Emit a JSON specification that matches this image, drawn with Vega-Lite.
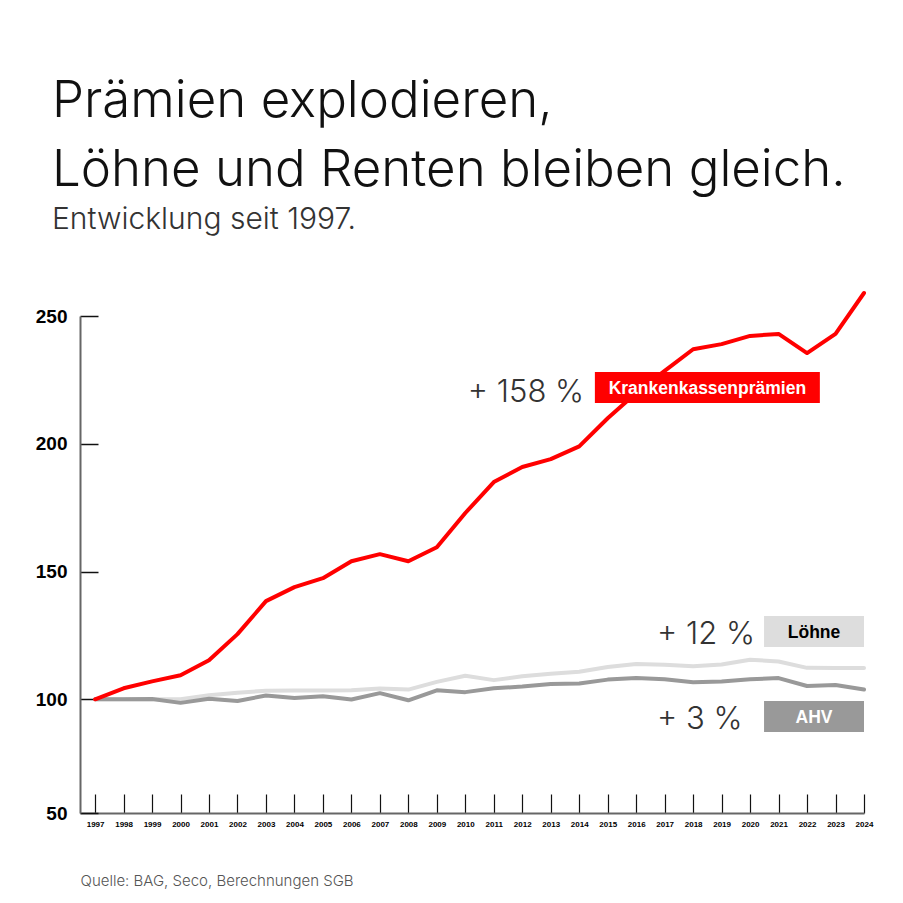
{
  "$schema": "https://vega.github.io/schema/vega-lite/v6.json",
  "autosize": {"type": "none"},
  "padding": {"left": 80, "top": 316, "right": 39, "bottom": 90},
  "width": 784,
  "height": 497,
  "background": "white",
  "config": {
    "view": {"stroke": null},
    "font": "Inter"
  },
  "title": {
    "text": ["Prämien explodieren,", "Löhne und Renten bleiben gleich."],
    "subtitle": "Entwicklung seit 1997.",
    "anchor": "start",
    "frame": "group",
    "dx": -28,
    "offset": 55,
    "font": "Inter",
    "fontWeight": 300,
    "fontSize": 51,
    "lineHeight": 69,
    "color": "#111111",
    "subtitleFont": "Inter",
    "subtitleFontWeight": 300,
    "subtitleFontSize": 30,
    "subtitleColor": "#333333",
    "subtitlePadding": 8
  },
  "datasets": {
    "series": [
      {"year": 1997, "series": "Löhne", "value": 100},
      {"year": 1998, "series": "Löhne", "value": 100},
      {"year": 1999, "series": "Löhne", "value": 100},
      {"year": 2000, "series": "Löhne", "value": 100},
      {"year": 2001, "series": "Löhne", "value": 101.6},
      {"year": 2002, "series": "Löhne", "value": 102.6},
      {"year": 2003, "series": "Löhne", "value": 103.3},
      {"year": 2004, "series": "Löhne", "value": 103.4},
      {"year": 2005, "series": "Löhne", "value": 103.4},
      {"year": 2006, "series": "Löhne", "value": 103.5},
      {"year": 2007, "series": "Löhne", "value": 104.2},
      {"year": 2008, "series": "Löhne", "value": 103.8},
      {"year": 2009, "series": "Löhne", "value": 106.8},
      {"year": 2010, "series": "Löhne", "value": 109.2},
      {"year": 2011, "series": "Löhne", "value": 107.5},
      {"year": 2012, "series": "Löhne", "value": 109.0},
      {"year": 2013, "series": "Löhne", "value": 110.0},
      {"year": 2014, "series": "Löhne", "value": 110.8},
      {"year": 2015, "series": "Löhne", "value": 112.6},
      {"year": 2016, "series": "Löhne", "value": 113.8},
      {"year": 2017, "series": "Löhne", "value": 113.5},
      {"year": 2018, "series": "Löhne", "value": 112.9},
      {"year": 2019, "series": "Löhne", "value": 113.6},
      {"year": 2020, "series": "Löhne", "value": 115.5},
      {"year": 2021, "series": "Löhne", "value": 114.8},
      {"year": 2022, "series": "Löhne", "value": 112.3},
      {"year": 2023, "series": "Löhne", "value": 112.2},
      {"year": 2024, "series": "Löhne", "value": 112.2},
      {"year": 1997, "series": "AHV", "value": 100},
      {"year": 1998, "series": "AHV", "value": 100},
      {"year": 1999, "series": "AHV", "value": 100.1},
      {"year": 2000, "series": "AHV", "value": 98.6},
      {"year": 2001, "series": "AHV", "value": 100.2},
      {"year": 2002, "series": "AHV", "value": 99.3},
      {"year": 2003, "series": "AHV", "value": 101.5},
      {"year": 2004, "series": "AHV", "value": 100.5},
      {"year": 2005, "series": "AHV", "value": 101.2},
      {"year": 2006, "series": "AHV", "value": 99.9},
      {"year": 2007, "series": "AHV", "value": 102.4},
      {"year": 2008, "series": "AHV", "value": 99.6},
      {"year": 2009, "series": "AHV", "value": 103.5},
      {"year": 2010, "series": "AHV", "value": 102.8},
      {"year": 2011, "series": "AHV", "value": 104.3},
      {"year": 2012, "series": "AHV", "value": 105.0},
      {"year": 2013, "series": "AHV", "value": 106.0},
      {"year": 2014, "series": "AHV", "value": 106.2},
      {"year": 2015, "series": "AHV", "value": 107.7},
      {"year": 2016, "series": "AHV", "value": 108.3},
      {"year": 2017, "series": "AHV", "value": 107.8},
      {"year": 2018, "series": "AHV", "value": 106.7},
      {"year": 2019, "series": "AHV", "value": 107.0},
      {"year": 2020, "series": "AHV", "value": 107.8},
      {"year": 2021, "series": "AHV", "value": 108.3},
      {"year": 2022, "series": "AHV", "value": 105.2},
      {"year": 2023, "series": "AHV", "value": 105.6},
      {"year": 2024, "series": "AHV", "value": 103.8},
      {"year": 1997, "series": "Krankenkassenprämien", "value": 100},
      {"year": 1998, "series": "Krankenkassenprämien", "value": 104.3},
      {"year": 1999, "series": "Krankenkassenprämien", "value": 107},
      {"year": 2000, "series": "Krankenkassenprämien", "value": 109.4},
      {"year": 2001, "series": "Krankenkassenprämien", "value": 115.3},
      {"year": 2002, "series": "Krankenkassenprämien", "value": 125.5},
      {"year": 2003, "series": "Krankenkassenprämien", "value": 138.4},
      {"year": 2004, "series": "Krankenkassenprämien", "value": 143.9},
      {"year": 2005, "series": "Krankenkassenprämien", "value": 147.4},
      {"year": 2006, "series": "Krankenkassenprämien", "value": 154},
      {"year": 2007, "series": "Krankenkassenprämien", "value": 156.8},
      {"year": 2008, "series": "Krankenkassenprämien", "value": 154},
      {"year": 2009, "series": "Krankenkassenprämien", "value": 159.5},
      {"year": 2010, "series": "Krankenkassenprämien", "value": 172.9},
      {"year": 2011, "series": "Krankenkassenprämien", "value": 185},
      {"year": 2012, "series": "Krankenkassenprämien", "value": 190.9},
      {"year": 2013, "series": "Krankenkassenprämien", "value": 194},
      {"year": 2014, "series": "Krankenkassenprämien", "value": 199},
      {"year": 2015, "series": "Krankenkassenprämien", "value": 210},
      {"year": 2016, "series": "Krankenkassenprämien", "value": 219.9},
      {"year": 2017, "series": "Krankenkassenprämien", "value": 228.5},
      {"year": 2018, "series": "Krankenkassenprämien", "value": 237},
      {"year": 2019, "series": "Krankenkassenprämien", "value": 239},
      {"year": 2020, "series": "Krankenkassenprämien", "value": 242.2},
      {"year": 2021, "series": "Krankenkassenprämien", "value": 243},
      {"year": 2022, "series": "Krankenkassenprämien", "value": 235.5},
      {"year": 2023, "series": "Krankenkassenprämien", "value": 243},
      {"year": 2024, "series": "Krankenkassenprämien", "value": 259}
    ],
    "boxes": [
      {"label": "Krankenkassenprämien", "start": 2014.55, "end": 2022.45, "lo": 215.95, "hi": 228.1, "mid_x": 2018.5, "mid_y": 222.0},
      {"label": "Löhne", "start": 2020.49, "end": 2024, "lo": 120.45, "hi": 132.6, "mid_x": 2022.245, "mid_y": 126.5},
      {"label": "AHV", "start": 2020.49, "end": 2024, "lo": 87.2, "hi": 99.3, "mid_x": 2022.245, "mid_y": 93.25}
    ],
    "changes": [
      {"text": "+ 158 %", "year": 2010.09, "value": 216.3},
      {"text": "+ 12 %", "year": 2016.73, "value": 121.6},
      {"text": "+ 3 %", "year": 2016.73, "value": 88.4}
    ]
  },
  "layer": [
    {
      "data": {"name": "series"},
      "mark": {"type": "line", "strokeWidth": 4, "strokeCap": "round", "strokeJoin": "round"},
      "encoding": {
        "x": {
          "field": "year", "type": "quantitative",
          "scale": {"domain": [1996.47, 2024], "nice": false, "zero": false},
          "axis": {
            "values": [1997,1998,1999,2000,2001,2002,2003,2004,2005,2006,2007,2008,2009,2010,2011,2012,2013,2014,2015,2016,2017,2018,2019,2020,2021,2022,2023,2024],
            "tickCount": 28,
            "format": "d",
            "grid": false,
            "tickSize": -19,
            "tickColor": "#111111",
            "tickWidth": 1.2,
            "domainColor": "#666666",
            "domainWidth": 2,
            "labelFont": "Liberation Sans",
            "labelFontWeight": "bold",
            "labelFontSize": 8,
            "labelColor": "#000000",
            "labelPadding": 26,
            "labelFlush": false,
            "labelOverlap": false,
            "labelBound": false,
            "title": "Quelle: BAG, Seco, Berechnungen SGB",
            "titleFont": "Inter",
            "titleFontWeight": 300,
            "titleFontSize": 15,
            "titleColor": "#555555",
            "titleAnchor": "start",
            "titleAlign": "left",
            "titleBaseline": "alphabetic",
            "titleX": 0,
            "titleY": 72
          }
        },
        "y": {
          "field": "value", "type": "quantitative",
          "scale": {"domain": [55.5, 250], "nice": false, "zero": false},
          "axis": {
            "values": [55.5, 100, 150, 200, 250],
            "tickCount": 5,
            "labelExpr": "datum.value < 60 ? '50' : datum.label",
            "grid": false,
            "tickSize": -18,
            "tickColor": "#111111",
            "tickWidth": 1.5,
            "domainColor": "#666666",
            "domainWidth": 2,
            "labelFont": "Liberation Sans",
            "labelFontWeight": "bold",
            "labelFontSize": 19,
            "labelColor": "#000000",
            "labelPadding": 31,
            "labelFlush": false,
            "title": null
          }
        },
        "color": {
          "field": "series", "type": "nominal",
          "scale": {"domain": ["Löhne", "AHV", "Krankenkassenprämien"], "range": ["#dddddd", "#999999", "#ff0000"]},
          "legend": null
        }
      }
    },
    {
      "data": {"name": "boxes"},
      "mark": {"type": "rect"},
      "encoding": {
        "x": {"field": "start", "type": "quantitative"},
        "x2": {"field": "end"},
        "y": {"field": "lo", "type": "quantitative"},
        "y2": {"field": "hi"},
        "color": {
          "field": "label", "type": "nominal",
          "scale": {"domain": ["Krankenkassenprämien", "Löhne", "AHV"], "range": ["#ff0000", "#dddddd", "#999999"]},
          "legend": null
        }
      }
    },
    {
      "data": {"name": "boxes"},
      "mark": {"type": "text", "font": "Liberation Sans", "fontWeight": "bold", "fontSize": 17.5, "align": "center", "baseline": "middle", "dy": 1},
      "encoding": {
        "x": {"field": "mid_x", "type": "quantitative"},
        "y": {"field": "mid_y", "type": "quantitative"},
        "text": {"field": "label"},
        "color": {
          "field": "label", "type": "nominal",
          "scale": {"domain": ["Krankenkassenprämien", "Löhne", "AHV"], "range": ["#ffffff", "#000000", "#ffffff"]},
          "legend": null
        }
      }
    },
    {
      "data": {"name": "changes"},
      "mark": {"type": "text", "font": "Inter", "fontWeight": 300, "fontSize": 31, "align": "left", "baseline": "alphabetic", "color": "#333333"},
      "encoding": {
        "x": {"field": "year", "type": "quantitative"},
        "y": {"field": "value", "type": "quantitative"},
        "text": {"field": "text"}
      }
    }
  ],
  "resolve": {"scale": {"color": "independent"}}
}
